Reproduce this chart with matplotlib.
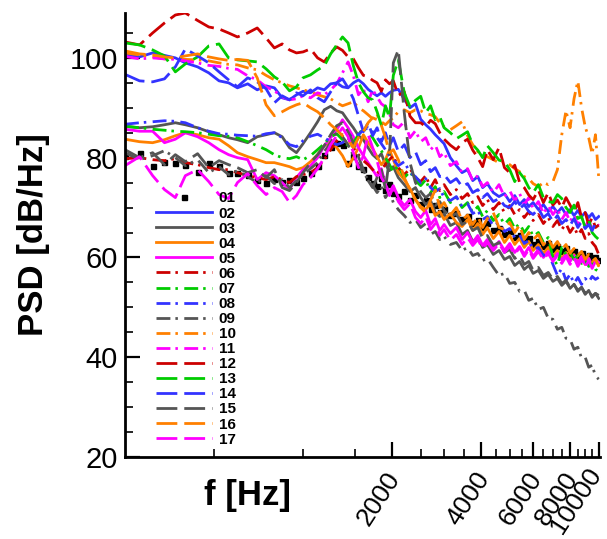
import matplotlib
matplotlib.use("Agg")
import matplotlib.pyplot as plt
from matplotlib.ticker import FixedLocator, FixedFormatter, NullFormatter
from matplotlib.transforms import ScaledTranslation

plt.rcParams['font.family'] = ['Liberation Sans', 'DejaVu Sans']

# frequency grid [Hz]
freq = [250, 280, 310, 340, 370, 400, 440, 480, 520, 560,
        600, 650, 700, 750, 800, 850, 900, 950, 1000, 1060,
        1120, 1180, 1240, 1300, 1360, 1420, 1480, 1540, 1600, 1660,
        1720, 1780, 1840, 1900, 1960, 2020, 2100, 2200, 2300, 2400,
        2500, 2600, 2700, 2800, 2900, 3000, 3150, 3300, 3450, 3600,
        3750, 3900, 4050, 4200, 4400, 4600, 4800, 5000, 5200, 5400,
        5600, 5800, 6000, 6250, 6500, 6750, 7000, 7250, 7500, 7750,
        8000, 8250, 8500, 8750, 9000, 9250, 9500, 9750, 10000]

# PSD [dB/Hz] for each probe
s01 = [80.4, 81.0, 78.4, 79.2, 79.0, 78.6, 77.2, 79.0, 78.4, 77.0,
       77.0, 76.6, 75.6, 75.0, 75.8, 75.2, 75.6, 75.2, 76.0, 77.0,
       78.4, 80.6, 82.2, 83.0, 82.6, 79.0, 80.4, 78.4, 77.8, 76.2,
       75.0, 74.4, 76.0, 73.6, 74.8, 73.0, 72.4, 73.4, 71.6, 72.6,
       70.8, 71.6, 69.8, 70.6, 69.2, 69.8, 68.6, 69.0, 67.8, 68.4,
       67.0, 67.6, 66.2, 67.0, 65.6, 66.0, 64.8, 65.4, 64.0, 64.6,
       63.4, 63.8, 62.6, 63.2, 62.2, 62.8, 61.6, 62.2, 61.2, 61.8,
       60.8, 61.2, 60.4, 60.8, 60.0, 60.4, 59.6, 60.0, 59.4]
s02 = [100.8, 100.2, 101.0, 100.5, 100.0, 99.0, 98.2, 97.0, 95.4, 95.0,
       94.0, 94.8, 93.6, 94.4, 94.0, 92.0, 91.6, 92.6, 93.3, 93.0,
       94.0, 93.6, 94.8, 95.0, 94.2, 94.0, 95.0, 95.6, 94.8, 93.7,
       93.0, 92.4, 93.0, 92.3, 93.0, 93.5, 93.7, 91.7, 90.0, 90.8,
       87.7, 86.6, 85.7, 84.6, 83.7, 82.8, 80.0, 78.4, 77.0, 77.6,
       75.4, 76.2, 74.0, 74.8, 73.0, 72.2, 72.8, 71.2, 72.4, 70.6,
       71.6, 70.2, 71.0, 69.6, 70.6, 69.2, 70.2, 69.0, 70.0, 68.6,
       69.6, 68.4, 69.4, 68.2, 69.0, 68.0, 68.8, 67.6, 68.2]
s03 = [86.3, 86.0, 86.2, 86.6, 87.0, 86.6, 86.0, 85.2, 84.6, 84.0,
       83.6, 83.0, 84.2, 84.6, 85.0, 84.2, 82.0, 81.0, 82.8, 85.0,
       87.2, 89.6, 90.3, 89.4, 89.0, 87.4, 86.0, 84.4, 83.6, 82.0,
       80.6, 79.8, 80.8, 78.6, 77.4, 78.2, 76.0, 74.6, 73.2, 74.0,
       72.0, 70.6, 71.4, 69.0, 68.2, 68.8, 66.4, 67.0, 64.6, 65.4,
       63.2, 64.0, 62.0, 62.6, 60.6, 61.4, 59.6, 60.2, 58.4, 59.2,
       57.6, 58.4, 56.8, 57.4, 55.8, 56.6, 55.2, 55.8, 54.4, 55.2,
       53.8, 54.6, 53.2, 54.0, 52.6, 53.4, 52.0, 52.8, 51.8]
s04 = [83.7, 83.2, 83.0, 83.6, 84.4, 85.0, 84.6, 84.0, 83.7, 82.4,
       81.0, 80.2, 79.6, 79.0, 79.0, 78.6, 78.2, 77.6, 78.0, 79.2,
       80.6, 82.4, 83.2, 82.0, 80.4, 78.2, 80.0, 82.0, 84.6, 83.0,
       81.8, 80.2, 78.6, 79.6, 81.6, 79.6, 77.0, 75.6, 73.8, 71.6,
       70.2, 69.6, 70.8, 68.4, 69.2, 67.6, 68.8, 67.0, 66.2, 67.6,
       65.4, 66.8, 64.6, 66.0, 63.8, 65.2, 63.0, 64.4, 62.6, 63.8,
       62.0, 63.2, 61.4, 62.6, 60.8, 62.0, 60.2, 61.4, 59.8, 61.0,
       59.6, 60.6, 59.0, 60.2, 58.6, 59.8, 58.2, 59.4, 58.4]
s05 = [85.7, 85.3, 85.3, 83.0, 83.7, 85.0, 84.2, 83.0, 81.6, 80.6,
       80.0, 79.6, 75.6, 77.0, 76.4, 75.0, 73.6, 76.0, 77.6, 78.4,
       80.0, 82.4, 84.0, 85.6, 87.6, 86.0, 84.2, 82.0, 80.4, 79.0,
       77.6, 76.2, 77.8, 74.6, 73.0, 74.4, 72.0, 70.4, 71.6, 69.2,
       68.0, 69.4, 66.6, 67.8, 65.4, 66.6, 64.8, 66.0, 63.6, 65.0,
       63.0, 64.4, 62.4, 63.6, 61.8, 63.2, 61.4, 62.8, 61.0, 62.2,
       60.6, 62.0, 60.2, 61.6, 60.0, 61.2, 59.6, 60.8, 59.4, 60.6,
       59.2, 60.4, 58.8, 60.2, 58.6, 59.8, 58.4, 59.6, 59.0]
s06 = [79.8, 80.0, 79.6, 79.4, 79.8, 79.0, 78.6, 78.0, 77.6, 77.6,
       77.0, 76.4, 76.0, 75.6, 76.2, 75.6, 75.0, 76.2, 76.6, 77.0,
       78.0, 79.6, 81.6, 83.4, 84.6, 84.0, 82.0, 80.6, 79.4, 78.6,
       77.6, 76.8, 77.8, 78.6, 79.6, 80.4, 78.0, 76.6, 77.8, 76.0,
       75.2, 76.4, 74.0, 75.6, 73.4, 74.6, 72.6, 73.6, 71.8, 72.8,
       71.0, 72.2, 70.4, 71.6, 69.6, 71.0, 69.0, 70.4, 68.6, 69.6,
       68.0, 69.2, 67.4, 68.6, 66.8, 68.0, 66.2, 67.4, 65.6, 66.8,
       65.0, 66.2, 64.4, 65.6, 63.8, 64.8, 63.0, 62.2, 60.6]
s07 = [86.3, 86.0, 85.7, 85.5, 85.3, 85.2, 85.0, 84.7, 84.4, 84.3,
       84.0, 83.2, 82.4, 81.6, 80.6, 80.0, 79.8, 80.2, 79.6, 80.4,
       81.6, 82.8, 84.2, 84.8, 83.6, 82.4, 83.0, 84.6, 86.0, 85.0,
       84.0, 82.6, 81.4, 80.0, 78.6, 77.2, 78.4, 76.0, 77.2, 75.4,
       74.4, 75.6, 73.0, 74.2, 72.0, 73.2, 71.0, 72.0, 70.0, 71.0,
       69.0, 70.2, 68.2, 69.4, 67.4, 68.6, 66.6, 67.8, 65.8, 66.8,
       65.0, 66.2, 64.2, 65.0, 63.0, 64.0, 60.0, 58.4, 62.0, 60.6,
       61.0, 59.6, 60.4, 58.8, 59.6, 58.2, 59.0, 57.6, 57.2]
s08 = [86.7, 87.0, 87.2, 87.4, 87.3, 87.0, 86.0, 85.3, 84.8, 84.7,
       84.5, 84.4, 84.3, 84.8, 85.0, 84.0, 82.6, 82.2, 83.4, 84.3,
       84.7, 84.0, 83.2, 82.6, 83.0, 84.0, 85.0, 84.6, 85.6, 86.0,
       85.2, 84.0, 82.8, 81.6, 80.4, 79.6, 78.4, 79.2, 77.0, 76.2,
       75.0, 75.8, 74.0, 73.2, 73.8, 72.0, 71.4, 72.2, 70.2, 70.8,
       68.8, 69.4, 67.6, 68.2, 66.4, 67.0, 65.2, 65.8, 64.0, 64.6,
       62.8, 63.4, 61.6, 62.0, 60.4, 61.0, 58.6, 56.4, 57.8, 55.4,
       56.6, 54.8, 56.0, 54.6, 55.8, 55.0, 56.2, 55.6, 56.0]
s09 = [81.0, 79.6, 80.4, 81.4, 80.0, 78.4, 79.6, 77.0, 78.2, 76.6,
       77.4, 76.2, 75.0, 76.4, 74.8, 75.6, 74.0, 75.4, 76.6, 77.8,
       79.0, 81.2, 83.0, 85.0, 84.2, 82.6, 80.4, 78.6, 77.0, 75.6,
       74.4, 73.0, 74.2, 72.0, 73.2, 71.0, 69.6, 68.4, 67.0, 67.6,
       66.0, 66.8, 64.6, 65.2, 63.6, 64.2, 62.6, 63.0, 61.4, 62.0,
       60.4, 60.8, 59.4, 59.8, 58.0, 56.4, 56.8, 54.8, 55.0, 53.2,
       53.4, 51.4, 51.8, 49.6, 50.0, 47.8, 47.6, 45.6, 46.0, 43.8,
       43.6, 41.6, 42.0, 39.8, 40.0, 38.0, 38.4, 36.2, 35.6]
s10 = [101.0, 100.6, 100.2, 99.8, 99.9, 99.7, 99.6, 99.4, 99.0, 98.7,
       98.6, 98.0, 97.6, 96.5, 95.6, 95.0, 94.4, 94.0, 93.6, 93.2,
       92.6, 92.2, 91.8, 91.0, 90.4, 90.8, 91.2, 90.0, 89.4, 88.6,
       87.8, 88.4, 87.2, 86.6, 87.4, 88.0, 89.2, 89.6, 89.0, 89.6,
       89.4, 88.8, 88.6, 88.2, 87.0, 86.2, 85.6, 86.4, 87.2, 84.4,
       82.6, 81.2, 80.6, 80.2, 79.6, 79.0, 79.4, 78.6, 77.8, 77.2,
       76.2, 75.8, 74.8, 74.2, 75.0, 74.6, 75.2, 77.6, 84.6, 89.4,
       86.0, 91.8, 95.4, 90.0, 86.2, 84.0, 80.8, 84.6, 76.0]
s11 = [100.3, 99.8, 100.0, 99.8, 99.7, 99.4, 99.0, 98.5, 98.3, 97.9,
       97.7, 96.4, 95.6, 94.2, 93.4, 92.2, 91.6, 91.8, 92.4, 92.0,
       93.0, 92.6, 93.6, 94.8, 97.0, 99.2, 96.4, 92.6, 93.8, 91.2,
       93.6, 92.2, 90.8, 90.2, 88.8, 86.6, 86.0, 87.2, 84.0, 85.4,
       83.2, 84.0, 81.6, 82.6, 80.2, 81.0, 78.4, 79.2, 77.0, 77.8,
       75.4, 76.4, 74.2, 75.0, 73.0, 74.6, 72.2, 73.4, 71.4, 72.8,
       70.6, 72.0, 69.8, 71.2, 68.8, 70.4, 68.6, 69.8, 67.6, 69.0,
       67.2, 68.6, 66.4, 68.0, 66.2, 67.4, 65.6, 67.0, 66.4]
s12 = [103.2, 102.6, 105.0, 107.0, 108.6, 109.0, 107.5, 106.2, 105.8, 105.0,
       104.2, 105.0, 106.0, 104.0, 102.0, 102.8, 101.6, 101.0, 101.2, 101.8,
       100.0, 99.2, 101.0, 102.2, 101.5, 100.2, 99.8, 98.0, 96.5, 96.2,
       95.5, 95.0, 93.3, 95.6, 94.8, 95.4, 92.5, 93.2, 88.3, 87.0,
       87.0, 86.2, 87.5, 86.8, 85.0, 83.7, 82.5, 81.6, 83.0, 83.7,
       81.5, 80.0, 78.2, 81.6, 79.6, 82.0, 78.0, 77.0, 78.5, 75.0,
       74.0, 72.5, 71.6, 73.5, 71.0, 73.0, 70.5, 71.5, 70.0, 72.0,
       70.5, 69.0, 71.0, 68.0, 69.0, 66.5, 68.0, 66.0, 66.5]
s13 = [103.0, 102.6, 101.6, 100.4, 97.2, 98.8, 100.2, 102.4, 102.8, 100.0,
       99.6, 99.4, 99.2, 97.8, 96.2, 95.2, 93.4, 94.2, 96.0, 96.6,
       97.6, 98.4, 100.8, 102.6, 104.2, 103.0, 98.4, 95.0, 93.2, 92.0,
       91.6, 89.2, 86.5, 90.4, 88.0, 96.5, 99.6, 93.0, 90.2, 91.5,
       92.3, 89.0, 90.4, 87.6, 88.2, 86.0, 85.0, 83.8, 84.5, 85.2,
       82.6, 81.5, 80.0, 82.4, 81.0, 79.5, 79.2, 77.6, 75.2, 77.0,
       75.8, 74.0, 73.0, 74.6, 72.0, 71.2, 71.0, 72.6, 71.8, 70.0,
       69.0, 70.5, 67.8, 68.2, 66.0, 67.5, 65.0, 64.2, 63.6]
s14 = [96.7, 95.4, 95.2, 95.8, 98.2, 101.8, 100.4, 99.0, 97.2, 95.6,
       94.2, 96.0, 95.2, 93.8, 91.0, 92.4, 91.6, 93.0, 92.4, 93.6,
       92.0, 91.2, 93.2, 95.0, 95.8, 94.0, 91.8, 88.4, 85.2, 87.0,
       84.4, 86.0, 83.2, 85.0, 82.4, 84.0, 81.2, 82.6, 80.0, 81.2,
       78.6, 79.4, 77.2, 78.0, 76.2, 76.6, 75.0, 75.8, 74.2, 74.8,
       73.0, 73.6, 72.0, 72.8, 71.2, 71.8, 70.4, 70.0, 71.2, 69.8,
       70.6, 69.2, 68.6, 69.8, 68.0, 68.8, 67.2, 68.4, 66.8, 67.6,
       66.4, 67.8, 66.0, 67.2, 65.8, 66.6, 65.4, 66.8, 66.0]
s15 = [81.6, 80.0, 81.0, 78.6, 80.6, 79.2, 80.8, 78.0, 79.4, 78.6,
       78.0, 77.0, 77.6, 76.0, 77.6, 74.0, 73.4, 75.0, 77.0, 79.0,
       80.6, 82.4, 84.6, 86.4, 87.0, 85.2, 83.0, 80.2, 77.6, 75.4,
       74.0, 76.0, 77.6, 73.6, 80.0, 99.0, 101.6, 89.0, 79.0, 75.0,
       73.2, 72.0, 72.8, 70.4, 71.2, 69.4, 68.2, 68.8, 66.6, 67.2,
       65.4, 66.0, 63.8, 64.4, 62.4, 63.0, 61.0, 61.6, 59.8, 60.4,
       58.6, 59.2, 57.4, 58.0, 56.4, 57.0, 55.6, 56.2, 54.8, 55.4,
       54.0, 54.6, 53.4, 54.0, 52.8, 53.4, 52.2, 52.8, 52.4]
s16 = [101.4, 100.8, 100.6, 100.2, 100.0, 100.4, 100.8, 100.2, 99.8, 99.5,
       99.7, 99.5, 96.0, 90.6, 88.4, 89.2, 90.0, 90.6, 91.0, 90.0,
       89.2, 88.0, 86.6, 85.6, 84.4, 83.6, 82.0, 84.0, 85.2, 87.0,
       88.0, 87.6, 86.5, 84.0, 81.0, 81.6, 79.6, 76.0, 73.5, 71.6,
       70.0, 69.0, 71.5, 73.5, 70.0, 71.0, 68.5, 70.0, 67.5, 68.5,
       66.6, 68.2, 66.0, 67.8, 69.0, 66.0, 65.6, 67.0, 65.0, 66.5,
       63.6, 65.0, 63.6, 64.6, 62.5, 63.8, 62.0, 63.2, 61.6, 62.6,
       60.8, 61.8, 60.4, 61.2, 59.6, 60.6, 59.2, 59.8, 58.2]
s17 = [78.4, 80.2, 76.4, 73.6, 72.0, 76.4, 77.6, 75.2, 72.6, 71.8,
       75.0, 76.8, 74.4, 72.6, 74.0, 73.2, 71.0, 72.4, 74.6, 76.0,
       77.8, 80.0, 82.6, 84.4, 86.0, 84.2, 81.0, 78.0, 80.4, 84.6,
       82.0, 79.4, 76.0, 74.6, 72.4, 74.0, 71.2, 69.6, 70.8, 68.0,
       66.8, 68.2, 65.6, 66.8, 64.4, 65.6, 63.4, 64.6, 62.6, 64.0,
       62.4, 63.6, 61.8, 63.0, 61.4, 62.8, 61.0, 62.2, 60.6, 62.0,
       60.2, 61.6, 59.8, 61.2, 59.6, 60.8, 59.2, 60.4, 58.8, 60.2,
       58.6, 60.0, 58.2, 59.6, 58.0, 59.4, 57.8, 59.2, 58.6]

series = [s01, s02, s03, s04, s05, s06, s07, s08, s09, s10,
          s11, s12, s13, s14, s15, s16, s17]
labels = ['01', '02', '03', '04', '05', '06', '07', '08', '09', '10',
          '11', '12', '13', '14', '15', '16', '17']

xticks_major = [2000, 4000, 6000, 8000, 10000]
xtick_labels = ['2000', '4000', '6000', '8000', '10000']
xticks_minor = [500, 1000, 1500, 2500, 3000, 3500, 4500, 5000, 5500,
                6500, 7000, 7500, 8500, 9000, 9500]
yticks_major = [20, 40, 60, 80, 100]
yticks_minor = [25, 30, 35, 45, 50, 55, 65, 70, 75, 85, 90, 95, 105]

# styling
RED, GREEN, BLUE = '#CC0000', '#00CC00', '#3333FF'
GRAY, ORANGE, MAGENTA = '#555555', '#FF8000', '#FF00FF'
palette = [BLUE, GRAY, ORANGE, MAGENTA, RED, GREEN, BLUE, GRAY, ORANGE, MAGENTA,
           RED, GREEN, BLUE, GRAY, ORANGE, MAGENTA]
DASH = (0, (7.5, 2.5))
DASHDOT = (0, (5.0, 1.8, 0.9, 2.3))
styles = ['-'] * 4 + [DASHDOT] * 6 + [DASH] * 6

fig = plt.figure(figsize=(6.07, 5.39), dpi=100)
ax = fig.add_axes([125 / 607, 82 / 539, 475 / 607, 444 / 539])

for i, (vals, lab) in enumerate(zip(series, labels)):
    if i == 0:
        ax.plot(freq, vals, linestyle='none', marker='s', markersize=3.6,
                color='black', label=lab)
    else:
        ax.plot(freq, vals, linestyle=styles[i - 1], color=palette[i - 1],
                lw=2.0, label=lab, dash_capstyle='butt')

ax.set_xscale('log')
ax.set_xlim(250, 10100)
ax.set_ylim(20, 109)

ax.xaxis.set_major_locator(FixedLocator(xticks_major))
ax.xaxis.set_major_formatter(FixedFormatter(xtick_labels))
ax.xaxis.set_minor_locator(FixedLocator(xticks_minor))
ax.xaxis.set_minor_formatter(NullFormatter())
ax.yaxis.set_major_locator(FixedLocator(yticks_major))
ax.yaxis.set_minor_locator(FixedLocator(yticks_minor))

ax.tick_params(which='major', direction='in', length=11, width=1.6,
               labelsize=21, pad=5)
ax.tick_params(axis='x', which='major', labelsize=19, pad=12)
ax.tick_params(which='minor', direction='in', length=6, width=1.2)
shift = ScaledTranslation(3 / 100, 0, fig.dpi_scale_trans)
xlbls = ax.get_xticklabels()
for k, lbl in enumerate(xlbls):
    lbl.set_rotation(57)
    lbl.set_ha('right')
    lbl.set_va('baseline' if k == len(xlbls) - 1 else 'center')
    lbl.set_rotation_mode('anchor')
    lbl.set_transform(lbl.get_transform() + shift)

for side in ('top', 'right'):
    ax.spines[side].set_visible(False)
for side in ('left', 'bottom'):
    ax.spines[side].set_linewidth(2.0)

ax.set_xlabel('f [Hz]', fontsize=25, fontweight='bold')
ax.xaxis.set_label_coords(0.257, -0.05)
ax.set_ylabel('PSD [dB/Hz]', fontsize=25, fontweight='bold')
ax.yaxis.set_label_coords(-0.158, 0.5)

ax.legend(loc='upper left', bbox_to_anchor=(0.065, 0.598), frameon=False,
          prop={'weight': 'bold', 'size': 11}, handlelength=3.7,
          handletextpad=0.4, labelspacing=0.07, borderpad=0,
          borderaxespad=0, numpoints=1)

fig.savefig('out.png', dpi=100)
